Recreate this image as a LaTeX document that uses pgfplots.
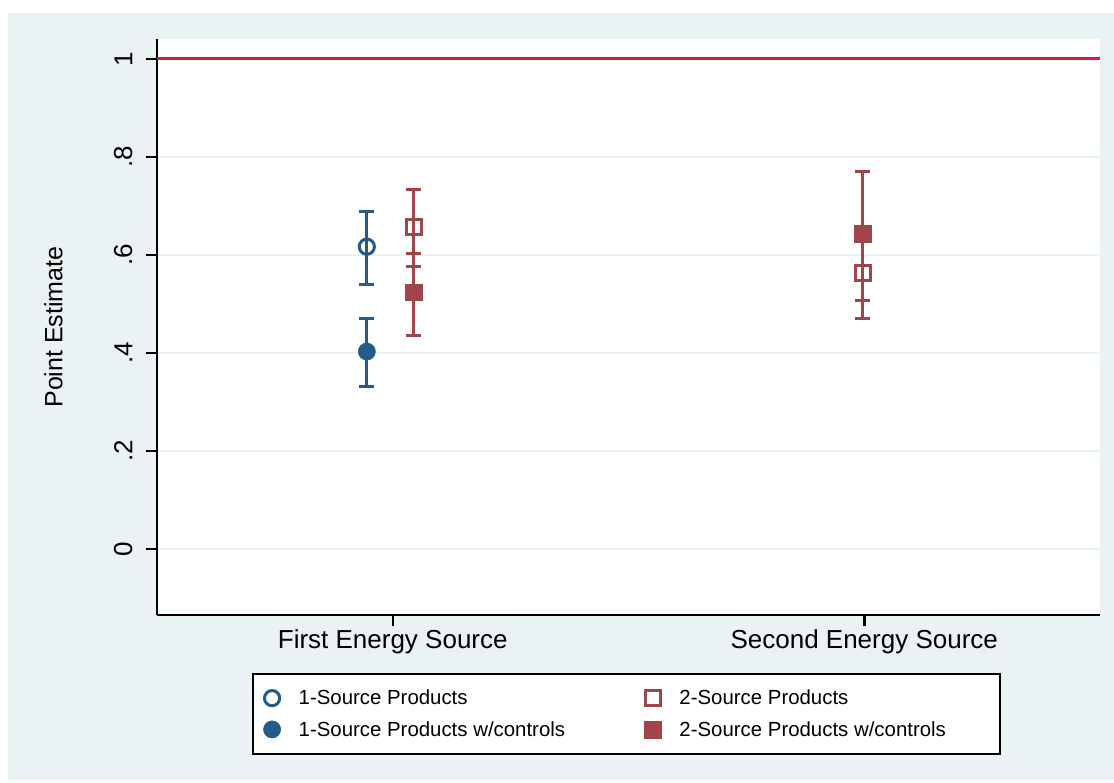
\documentclass[border=0pt]{standalone}
\usepackage{fontspec}
\setmainfont{Liberation Sans}
\usepackage{pgfplots}
\pgfplotsset{compat=1.18}
\definecolor{bgc}{RGB}{234,242,243}
\definecolor{sblue}{RGB}{35,92,138}
\definecolor{sred}{RGB}{163,68,74}
\definecolor{rline}{RGB}{212,28,62}
\begin{document}
\begin{tikzpicture}[x=1pt,y=1pt]
\path[use as bounding box, fill=white] (0,0) rectangle (1114,-782);
\fill[bgc] (8,-13) rectangle (1114,-780);
\begin{axis}[
  at={(157pt,-615pt)}, anchor=south west,
  scale only axis, width=943pt, height=576pt,
  xmin=0.5, xmax=2.5, ymin=-0.1347, ymax=1.0408,
  axis background/.style={fill=white},
  axis x line*=bottom, axis y line*=left,
  axis line style={-, line width=2.5pt, black},
  xtick={1,2}, xticklabels={First Energy Source, Second Energy Source},
  ytick={0,0.2,0.4,0.6,0.8,1}, yticklabels={0,.2,.4,.6,.8,1},
  tick align=outside, major tick length=11pt,
  tick style={line width=2.5pt, black},
  ymajorgrids, major grid style={line width=1.8pt, bgc},
  yticklabel style={rotate=90, anchor=south, font=\fontsize{26}{30}\selectfont},
  yticklabel shift=10pt,
  xticklabel style={font=\fontsize{26}{30}\selectfont},
  ylabel={Point Estimate},
  every axis y label/.style={at={(axis description cs:-0.0962,0.5)}, rotate=90, anchor=south, font=\fontsize{25}{30}\selectfont},
  legend columns=2,
  legend cell align=left,
  legend image code/.code={\draw[#1, only marks] plot coordinates {(0pt,0pt)};},
  legend style={at={(0.4984,-0.1007)}, anchor=north, draw=black, line width=2pt,
    inner xsep=10pt, inner ysep=14pt, row sep=11pt, font=\fontsize{20.4}{24}\selectfont,
    /tikz/every odd column/.append style={column sep=16pt},
    /tikz/column 2/.append style={column sep=40pt}},
]
\addplot[forget plot, rline, line width=3pt] coordinates {(0.5,1) (2.5,1)};
% confidence intervals
\addplot[forget plot, draw=none, mark=none, error bars/.cd, y dir=both, y explicit,
  error bar style={line width=3pt, draw=sblue},
  error mark options={rotate=90, mark size=7.5pt, line width=3pt, draw=sblue}]
  coordinates {(0.945,0.617) += (0,0.071) -= (0,0.078)
               (0.945,0.403) += (0,0.068) -= (0,0.072)};
\addplot[forget plot, draw=none, mark=none, error bars/.cd, y dir=both, y explicit,
  error bar style={line width=3pt, draw=sred},
  error mark options={rotate=90, mark size=7.5pt, line width=3pt, draw=sred}]
  coordinates {(1.045,0.657) += (0,0.076) -= (0,0.081)
               (1.997,0.563) += (0,0.092) -= (0,0.092)
               (1.045,0.524) += (0,0.079) -= (0,0.089)
               (1.997,0.644) += (0,0.127) -= (0,0.137)};
% point estimates
\addplot[only marks, color=sblue, mark=o, mark size=7.6pt, mark options={line width=3pt, draw=sblue, fill=none}]
  coordinates {(0.945,0.617)};
\addlegendentry{\makebox[304pt][l]{1-Source Products}}
\addplot[only marks, color=sred, mark=square, mark size=7.4pt, mark options={line width=3pt, draw=sred, fill=none}]
  coordinates {(1.045,0.657) (1.997,0.563)};
\addlegendentry{\makebox[309pt][l]{2-Source Products}}
\addplot[only marks, color=sblue, mark=*, mark size=8.6pt, mark options={line width=0.5pt, draw=sblue, fill=sblue}]
  coordinates {(0.945,0.403)};
\addlegendentry{\makebox[304pt][l]{1-Source Products w/controls}}
\addplot[only marks, color=sred, mark=square*, mark size=8.4pt, mark options={line width=0.5pt, draw=sred, fill=sred}]
  coordinates {(1.045,0.524) (1.997,0.644)};
\addlegendentry{\makebox[309pt][l]{2-Source Products w/controls}}
\end{axis}
\end{tikzpicture}
\end{document}
